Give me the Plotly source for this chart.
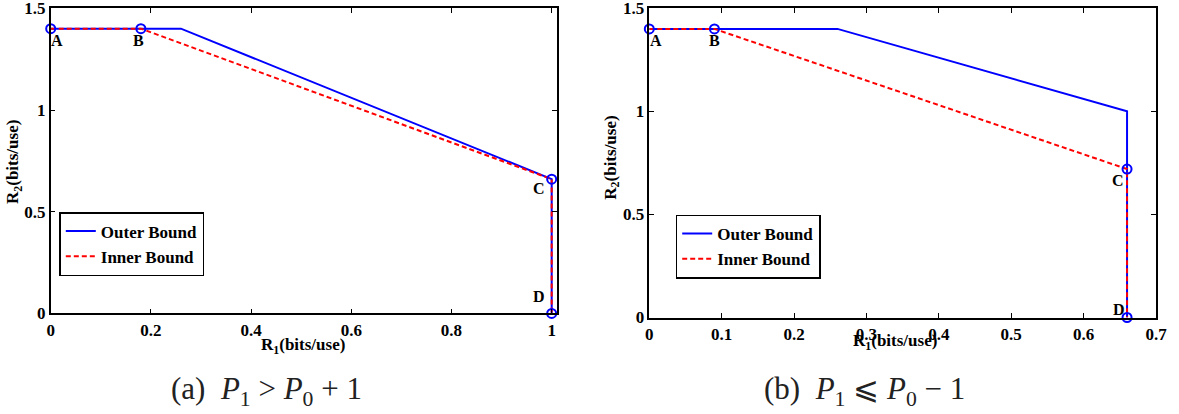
import plotly.graph_objects as go

# ---- data ----
# panel (a): P1 > P0 + 1
a_outer_r1 = [0.0, 0.26, 1.0, 1.0]
a_outer_r2 = [1.4, 1.4, 0.66, 0.0]
a_inner_r1 = [0.0, 0.18, 1.0, 1.0]
a_inner_r2 = [1.4, 1.4, 0.66, 0.0]
a_pts_r1 = [0.0, 0.18, 1.0, 1.0]
a_pts_r2 = [1.4, 1.4, 0.66, 0.0]

# panel (b): P1 <= P0 - 1
b_outer_r1 = [0.0, 0.26, 0.66, 0.66]
b_outer_r2 = [1.4, 1.4, 1.0, 0.0]
b_inner_r1 = [0.0, 0.09, 0.66, 0.66]
b_inner_r2 = [1.4, 1.4, 0.72, 0.0]
b_pts_r1 = [0.0, 0.09, 0.66, 0.66]
b_pts_r2 = [1.4, 1.4, 0.72, 0.0]

point_labels = ["A", "B", "C", "D"]
series_names = ["Outer Bound", "Inner Bound"]
a_xticks = [0, 0.2, 0.4, 0.6, 0.8, 1]
b_xticks = [0, 0.1, 0.2, 0.3, 0.4, 0.5, 0.6, 0.7]
yticks = [0, 0.5, 1, 1.5]
captions = ["(a)&nbsp;&nbsp;<i>P</i><sub>1</sub> &gt; <i>P</i><sub>0</sub> + 1",
            "(b)&nbsp;&nbsp;<i>P</i><sub>1</sub> \u2a7d <i>P</i><sub>0</sub> \u2212 1"]
xtitle = "R<sub>1</sub>(bits/use)"
ytitle = "R<sub>2</sub>(bits/use)"

# ---- styles / layout helpers ----
SERIF = "Liberation Serif, DejaVu Serif, serif"
BLUE = "#0000ff"
RED = "#ff0000"
W, H = 1179, 414


def fx(p):  # screen pixel x -> paper fraction
    return p / W


def fy(p):  # screen pixel y -> paper fraction
    return (H - p) / H


fig = go.Figure()


def add_panel(xa, ya, legend, outer_x, outer_y, inner_x, inner_y, px, py):
    fig.add_trace(go.Scatter(x=outer_x, y=outer_y, mode="lines", name=series_names[0],
                             line=dict(color=BLUE, width=2), xaxis=xa, yaxis=ya,
                             legend=legend, cliponaxis=False))
    fig.add_trace(go.Scatter(x=inner_x, y=inner_y, mode="lines", name=series_names[1],
                             line=dict(color=RED, width=2, dash="5px,3px"), xaxis=xa, yaxis=ya,
                             legend=legend, cliponaxis=False))
    fig.add_trace(go.Scatter(x=px, y=py, mode="markers", showlegend=False,
                             marker=dict(symbol="circle-open", size=9, color=BLUE,
                                         line=dict(width=2, color=BLUE)),
                             xaxis=xa, yaxis=ya, cliponaxis=False))


add_panel("x", "y", "legend", a_outer_r1, a_outer_r2, a_inner_r1, a_inner_r2, a_pts_r1, a_pts_r2)
add_panel("x2", "y2", "legend2", b_outer_r1, b_outer_r2, b_inner_r1, b_inner_r2, b_pts_r1, b_pts_r2)

tickfont = dict(family=SERIF, size=17, color="black", weight="bold")
axis_common = dict(showline=True, linecolor="black", linewidth=1.5, mirror="allticks",
                   ticks="inside", ticklen=5, tickwidth=1, tickcolor="black",
                   showgrid=False, zeroline=False, tickfont=tickfont, fixedrange=True,
                   automargin=False, ticklabeloverflow="allow")

legend_common = dict(xanchor="left", yanchor="top", bordercolor="black", borderwidth=1.5,
                     bgcolor="white", itemwidth=30, tracegroupgap=0,
                     font=dict(family=SERIF, size=17, color="black", weight="bold"))

fig.update_layout(
    width=W, height=H, autosize=False,
    margin=dict(l=0, r=0, t=0, b=0, autoexpand=False),
    paper_bgcolor="white", plot_bgcolor="white",
    xaxis=dict(domain=[fx(50.7), fx(556.7)], range=[0, 1.01], tickvals=a_xticks,
               anchor="y", **axis_common),
    yaxis=dict(domain=[fy(313.4), fy(8.3)], range=[0, 1.5], tickvals=yticks,
               anchor="x", **axis_common),
    xaxis2=dict(domain=[fx(649.3), fx(1156)], range=[0, 0.7], tickvals=b_xticks,
                anchor="y2", **axis_common),
    yaxis2=dict(domain=[fy(317.5), fy(8.3)], range=[0, 1.5], tickvals=yticks,
                anchor="x2", **axis_common),
    legend=dict(x=fx(59.3), y=fy(212), **legend_common),
    legend2=dict(x=fx(675.7), y=fy(214.5), **legend_common),
    showlegend=True,
)

lab_font = dict(family=SERIF, size=16, color="black", weight="bold")
a_shifts = [(6, -12), (-2, -12), (-13, -9), (-13, 17)]
b_shifts = [(7, -12), (0, -12), (-9, -11), (-8, 8)]
for xa, ya, px, py, shifts in [("x", "y", a_pts_r1, a_pts_r2, a_shifts),
                               ("x2", "y2", b_pts_r1, b_pts_r2, b_shifts)]:
    for lab, x, y, (dx, dy) in zip(point_labels, px, py, shifts):
        fig.add_annotation(x=x, y=y, xref=xa, yref=ya, text=lab, showarrow=False,
                           xshift=dx, yshift=dy, font=lab_font,
                           xanchor="center", yanchor="middle")

title_font = dict(family=SERIF, size=17, color="black", weight="bold")
# x titles
for cx, cy in [(303, 346), (895, 341.7)]:
    fig.add_annotation(x=fx(cx), y=fy(cy), xref="paper", yref="paper", text=xtitle,
                       showarrow=False, font=title_font, xanchor="center", yanchor="middle")
# y titles
for cx, cy in [(14, 162), (611.7, 158)]:
    fig.add_annotation(x=fx(cx), y=fy(cy), xref="paper", yref="paper", text=ytitle,
                       showarrow=False, font=title_font, textangle=-90,
                       xanchor="center", yanchor="middle")
# captions
cap_font = dict(family=SERIF, size=31, color="#222222")
for cap, cx in zip(captions, [266, 864]):
    fig.add_annotation(x=fx(cx), y=fy(391), xref="paper", yref="paper", text=cap,
                       showarrow=False, font=cap_font, xanchor="center", yanchor="middle")

# the page's default 8px body margin would shift and crop the figure
fig.write_html("out.html", config={"displayModeBar": False},
               post_script="document.body.style.margin='0';")
